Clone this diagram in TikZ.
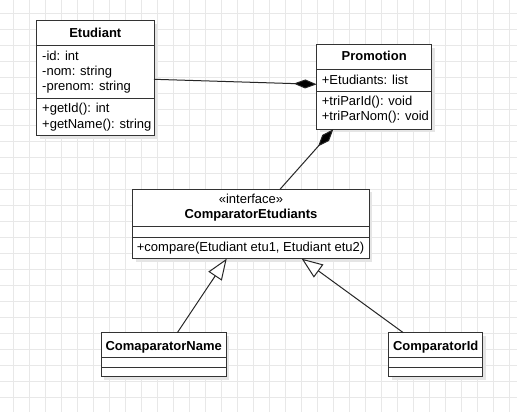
\documentclass[tikz,border=0pt]{standalone}
\usepackage{fontspec}
\setmainfont{Liberation Sans}
\usetikzlibrary{arrows.meta,shadows}
\begin{document}
\begin{tikzpicture}[x=1pt,y=-1pt,
  gridl/.style={draw=black!9, line width=0.8pt},
  box/.style={draw=black!80, line width=1pt, fill=white, anchor=north west, inner sep=0pt, outer sep=0pt,
    drop shadow={shadow xshift=3pt, shadow yshift=-3pt, fill=black!10, opacity=1}},
  divl/.style={draw=black!80, line width=1pt},
  ttl/.style={font=\fontsize{13}{15}\selectfont\bfseries, inner sep=0pt, anchor=base},
  stereo/.style={font=\fontsize{13}{15}\selectfont, inner sep=0pt, anchor=base},
  txt/.style={font=\fontsize{13}{15}\selectfont, inner sep=0pt, anchor=base west},
  conn/.style={draw=black!85, line width=1pt},
  comp/.style={conn, {Diamond[length=23pt,width=9pt,fill=black]}-},
  gen/.style={conn, {Triangle[open,length=21pt,width=16pt,fill=white]}-}
]
% background and grid
\fill[white] (0,0) rectangle (517,412);
\useasboundingbox (0,0) rectangle (517,412);
\foreach \i in {0,...,31} \draw[gridl] ({13.3+16*\i},0) -- ({13.3+16*\i},412);
\foreach \j in {0,...,24} \draw[gridl] (0,{13.3+16*\j}) -- (517,{13.3+16*\j});

% Etudiant
\node[box, minimum width=117.3pt, minimum height=115pt] (etu) at (36.7,20.7) {};
\draw[divl] (36.7,45.3) -- (154,45.3);
\draw[divl] (36.7,98.7) -- (154,98.7);
\node[ttl] (etut) at (95.3,37.7) {Etudiant};
\node[txt] (etua1) at (42,61) {-id: int};
\node[txt] (etua2) at (42,76) {-nom: string};
\node[txt] (etua3) at (42,91) {-prenom: string};
\node[txt] (etum1) at (42,113) {+getId(): int};
\node[txt] (etum2) at (42,128.3) {+getName(): string};

% Promotion
\node[box, minimum width=115pt, minimum height=84.6pt] (promo) at (316.7,44.7) {};
\draw[divl] (316.7,69.3) -- (431.7,69.3);
\draw[divl] (316.7,92) -- (431.7,92);
\node[ttl] (promot) at (374.2,61) {Promotion};
\node[txt] (promoa1) at (321.7,84.4) {+Etudiants: list};
\node[txt] (promom1) at (321.7,105.6) {+triParId(): void};
\node[txt] (promom2) at (321.7,121) {+triParNom(): void};

% ComparatorEtudiants
\node[box, minimum width=236.6pt, minimum height=69.4pt] (cmp) at (132.7,189.3) {};
\draw[divl] (132.7,226.7) -- (369.3,226.7);
\draw[divl] (132.7,237.3) -- (369.3,237.3);
\node[stereo] (cmps) at (251,203) {«interface»};
\node[ttl] (cmpt) at (251,218.5) {ComparatorEtudiants};
\node[txt] (cmpm1) at (136.7,251.5) {+compare(Etudiant etu1, Etudiant etu2)};

% ComaparatorName
\node[box, minimum width=125.3pt, minimum height=44pt] (cn) at (101,332.7) {};
\draw[divl] (101,357.7) -- (226.3,357.7);
\draw[divl] (101,367.3) -- (226.3,367.3);
\node[ttl] (cnt) at (163.7,350) {ComaparatorName};

% ComparatorId
\node[box, minimum width=94pt, minimum height=44pt] (ci) at (388.7,332.7) {};
\draw[divl] (388.7,357.7) -- (482.7,357.7);
\draw[divl] (388.7,367.3) -- (482.7,367.3);
\node[ttl] (cit) at (435.7,350) {ComparatorId};

% connectors
\coordinate (e1) at ([yshift=-58.6pt]etu.north east);
\coordinate (p1) at ([yshift=-39.6pt]promo.north west);
\draw[comp] (p1) -- (e1);

\coordinate (p2) at ([xshift=16.6pt]promo.south west);
\coordinate (c1) at ([xshift=147.3pt]cmp.north west);
\draw[comp] (p2) -- (c1);

\coordinate (g1) at ([xshift=94pt]cmp.south west);
\coordinate (n1) at ([xshift=76.3pt]cn.north west);
\draw[gen] (g1) -- (n1);

\coordinate (g2) at ([xshift=169pt]cmp.south west);
\coordinate (i1) at ([xshift=14.6pt]ci.north west);
\draw[gen] (g2) -- (i1);
\end{tikzpicture}
\end{document}
